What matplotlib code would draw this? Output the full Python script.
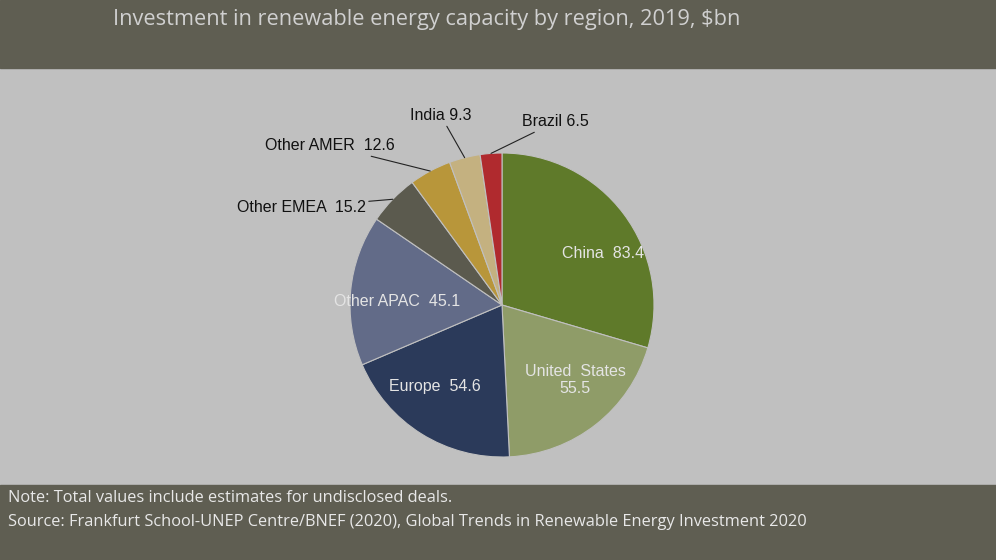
import matplotlib.pyplot as plt
import numpy as np

regions = ['China', 'United States', 'Europe', 'Other APAC', 'Other EMEA', 'Other AMER', 'India', 'Brazil']
values = [83.4, 55.5, 54.6, 45.1, 15.2, 12.6, 9.3, 6.5]
colors = ['#5f7a2a', '#8f9c68', '#2b3a5a', '#626b88', '#5b5a4e', '#b8963a', '#c4b180', '#b02a2e']
label_text = ['China  83.4', 'United  States\n55.5', 'Europe  54.6', 'Other APAC  45.1',
              'Other EMEA  15.2', 'Other AMER  12.6', 'India 9.3', 'Brazil 6.5']

fig = plt.figure(figsize=(9.96, 5.6), dpi=100)
fig.patch.set_facecolor('#c0c0c0')
dark = '#5f5e52'
fig.add_artist(plt.Rectangle((0, 1 - 68 / 560), 1, 68 / 560, color=dark, transform=fig.transFigure))
fig.add_artist(plt.Rectangle((0, 0), 1, 75 / 560, color=dark, transform=fig.transFigure))
fig.text(113 / 996, 1 - 20 / 560, 'Investment in renewable energy capacity by region, 2019, $bn',
         color='#d0d0d0', fontsize=15.7, va='center', family='Open Sans')
fig.text(8 / 996, 1 - 498 / 560, 'Note: Total values include estimates for undisclosed deals.',
         color='#e8e8e8', fontsize=11.75, va='center', family='Open Sans')
fig.text(8 / 996, 1 - 522 / 560, 'Source: Frankfurt School-UNEP Centre/BNEF (2020), Global Trends in Renewable Energy Investment 2020',
         color='#e8e8e8', fontsize=11.75, va='center', family='Open Sans')

r = 152
ax = fig.add_axes([(502 - r) / 996, (255 - r) / 560, 2 * r / 996, 2 * r / 560])
wedges, _ = ax.pie(values, colors=colors, startangle=90, counterclock=False,
                   wedgeprops=dict(edgecolor='#c0c0c0', linewidth=0.8))
ax.set_xlim(-1, 1)
ax.set_ylim(-1, 1)
ax.set_aspect('auto')
ax.axis('off')

def px(x, y):
    return ((x - 502) / r, (305 - y) / r)

inside = [(603, 254), (575, 380), (435, 387), (397, 301)]
for i, (x, y) in enumerate(inside):
    ax.text(*px(x, y), label_text[i], ha='center', va='center', color='#e4e4e4', fontsize=11.5,
            family='Liberation Sans')

outside = [((366, 207), 'right'), ((395, 146), 'right'), ((441, 116), 'center'), ((522, 122), 'left')]
for k, ((x, y), ha) in enumerate(outside):
    i = 4 + k
    w = wedges[i]
    ang = np.deg2rad((w.theta1 + w.theta2) / 2)
    xy = (np.cos(ang), np.sin(ang))
    tx, ty = px(x, y)
    ax.annotate(label_text[i], xy=xy, xytext=(tx, ty), ha=ha, va='center', fontsize=11.5,
                color='#111111', family='Liberation Sans', annotation_clip=False,
                arrowprops=dict(arrowstyle='-', color='#222222', lw=0.8, shrinkA=0, shrinkB=0))

fig.savefig('out.png', dpi=100, facecolor=fig.get_facecolor())
